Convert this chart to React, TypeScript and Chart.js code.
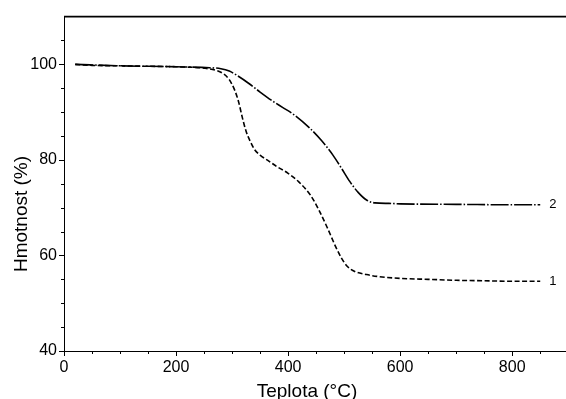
import React, { useEffect, useRef } from "react";
import { Chart, registerables } from "chart.js";

Chart.register(...registerables);

// Temperature (°C) and mass (%) for sample 1 (dashed)
const temp1 = [20, 50, 100, 150, 200, 250, 270, 285, 295, 305, 312, 318, 325, 332, 340, 350, 365, 380, 400, 420, 440, 455, 470, 485, 495, 505, 520, 540, 560, 600, 650, 700, 750, 800, 850];
const mass1 = [100, 99.8, 99.7, 99.6, 99.5, 99.2, 98.8, 98, 96.8, 94.5, 92, 89, 86, 84, 82.2, 81, 79.8, 78.6, 77.2, 75.3, 72.6, 69.5, 65.8, 61.8, 59.5, 57.8, 56.6, 56, 55.6, 55.2, 55, 54.8, 54.7, 54.6, 54.6];

// Temperature (°C) and mass (%) for sample 2 (dash-dot)
const temp2 = [20, 100, 200, 260, 280, 295, 310, 330, 350, 370, 390, 410, 440, 460, 480, 495, 510, 525, 540, 555, 580, 600, 700, 800, 850];
const mass2 = [100, 99.7, 99.5, 99.3, 99.1, 98.6, 97.6, 96, 94.2, 92.5, 91, 89.5, 86.5, 84, 81, 78.3, 75.5, 73.2, 71.6, 71, 70.9, 70.8, 70.7, 70.6, 70.6];

const seriesLabels = ["1", "2"];
const xMajorTicks = [0, 200, 400, 600, 800];
const xMinorTicks = [0, 50, 100, 150, 200, 250, 300, 350, 400, 450, 500, 550, 600, 650, 700, 750, 800, 850];
const yMajorTicks = [40, 60, 80, 100];
const yMinorTicks = [40, 45, 50, 55, 60, 65, 70, 75, 80, 85, 90, 95, 100, 105];
const xTitle = "Teplota (°C)";
const yTitle = "Hmotnost (%)";
const labelX = 866;

const FAMILY = '"Liberation Sans", Arial, sans-serif';

const decor = {
  id: "decor",
  afterDraw(chart: any) {
    const ctx = chart.ctx as CanvasRenderingContext2D;
    const { left, right, top, bottom } = chart.chartArea;
    const xs = chart.scales.x;
    const ys = chart.scales.y;
    ctx.save();
    ctx.strokeStyle = "#000";
    ctx.lineWidth = 1;
    ctx.beginPath();
    for (const v of xMinorTicks) {
      const px = Math.round(xs.getPixelForValue(v)) + 0.5;
      const len = xMajorTicks.includes(v) ? 5 : 3;
      ctx.moveTo(px, bottom);
      ctx.lineTo(px, bottom + len);
    }
    for (const v of yMinorTicks) {
      const py = Math.round(ys.getPixelForValue(v)) + 0.5;
      const len = yMajorTicks.includes(v) ? 5 : 3;
      ctx.moveTo(left, py);
      ctx.lineTo(left - len, py);
    }
    ctx.stroke();
    // top frame line
    ctx.lineWidth = 1.6;
    ctx.beginPath();
    ctx.moveTo(left, top);
    ctx.lineTo(right, top);
    ctx.stroke();

    ctx.fillStyle = "#000";
    // axis titles
    ctx.font = `19px ${FAMILY}`;
    ctx.textAlign = "center";
    ctx.textBaseline = "alphabetic";
    ctx.fillText(xTitle, 307, 397);
    ctx.save();
    ctx.translate(27, 214);
    ctx.rotate(-Math.PI / 2);
    ctx.fillText(yTitle, 0, 0);
    ctx.restore();

    // series labels
    ctx.font = `13px ${FAMILY}`;
    ctx.textAlign = "left";
    ctx.textBaseline = "middle";
    const ends = [mass1[mass1.length - 1], mass2[mass2.length - 1]];
    ends.forEach((m, i) => {
      ctx.fillText(seriesLabels[i], xs.getPixelForValue(labelX), ys.getPixelForValue(m));
    });
    ctx.restore();
  },
};

export default function App() {
  const ref = useRef<HTMLCanvasElement>(null);
  useEffect(() => {
    if (!ref.current) return;
    const chart = new Chart(ref.current, {
      type: "line",
      data: {
        datasets: [
          {
            label: seriesLabels[0],
            data: temp1.map((t, i) => ({ x: t, y: mass1[i] })),
            borderColor: "#000",
            borderWidth: 1.6,
            borderDash: [5, 2.5],
            pointRadius: 0,
            cubicInterpolationMode: "monotone",
            fill: false,
          },
          {
            label: seriesLabels[1],
            data: temp2.map((t, i) => ({ x: t, y: mass2[i] })),
            borderColor: "#000",
            borderWidth: 1.6,
            borderDash: [18, 2, 1.5, 2],
            pointRadius: 0,
            cubicInterpolationMode: "monotone",
            fill: false,
          },
        ],
      },
      options: {
        animation: false,
        responsive: false,
        layout: { padding: { left: 0, right: 0, top: 15, bottom: 0 } },
        plugins: { legend: { display: false }, tooltip: { enabled: false } },
        scales: {
          x: {
            type: "linear",
            min: 0,
            max: 896,
            afterBuildTicks: (s: any) => {
              s.ticks = xMajorTicks.map((v) => ({ value: v }));
            },
            afterFit: (s: any) => {
              s.height = 48;
            },
            grid: { drawOnChartArea: false, drawTicks: false },
            border: { color: "#000", width: 1 },
            ticks: { padding: 7, color: "#000", maxRotation: 0, font: { size: 16, family: FAMILY } },
          },
          y: {
            type: "linear",
            min: 40,
            max: 110,
            afterBuildTicks: (s: any) => {
              s.ticks = yMajorTicks.map((v) => ({ value: v }));
            },
            afterFit: (s: any) => {
              s.width = 64;
            },
            grid: { drawOnChartArea: false, drawTicks: false },
            border: { color: "#000", width: 1 },
            ticks: { padding: 7, color: "#000", font: { size: 16, family: FAMILY } },
          },
        },
      },
      plugins: [decor],
    } as any);
    return () => chart.destroy();
  }, []);
  return (
    <div style={{ position: "absolute", left: 0, top: 0, width: 566, height: 399, background: "#fff" }}>
      <canvas ref={ref} width={566} height={399} />
    </div>
  );
}
